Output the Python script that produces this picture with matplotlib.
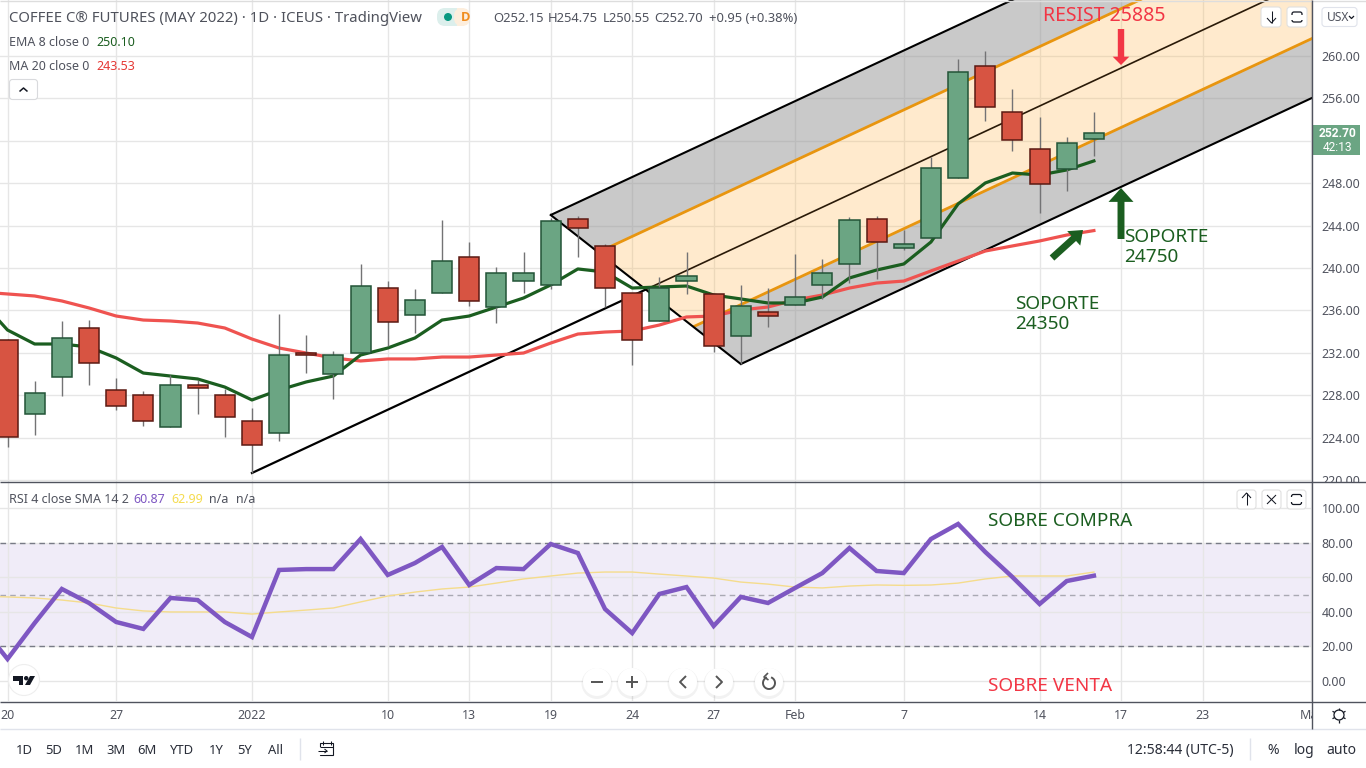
import numpy as np
import matplotlib
matplotlib.use("Agg")
import matplotlib.pyplot as plt
from matplotlib.patches import Polygon, Rectangle, Circle, FancyBboxPatch, FancyArrowPatch, Arc
from matplotlib.transforms import Bbox

plt.rcParams['font.family'] = ['Noto Sans', 'DejaVu Sans']

# ---------- data ----------
opens = [233.21,226.23,229.72,234.34,228.49,228.02,225.00,228.92,228.02,225.57,224.43,231.98,230.00,231.98,238.11,235.57,237.64,241.04,236.32,238.77,238.40,244.62,242.08,237.64,235.00,238.77,237.55,233.58,235.85,236.51,238.40,240.38,244.62,241.89,242.83,248.49,259.06,254.72,251.23,249.34,252.15]
closes = [224.06,228.21,233.40,231.04,226.98,225.57,228.96,228.68,225.94,223.30,231.79,231.79,231.79,238.30,234.91,236.98,240.66,236.89,239.53,239.53,244.43,243.77,238.11,233.21,238.11,239.25,232.64,236.42,235.47,237.26,239.53,244.53,242.45,242.26,249.43,258.49,255.19,252.08,247.92,251.79,252.70]
highs = [233.30,229.34,235.00,235.09,229.62,228.40,229.91,229.43,228.58,226.79,235.66,233.68,232.17,240.38,238.77,238.02,244.53,242.45,240.09,241.51,244.70,244.91,242.26,237.64,239.15,241.51,237.55,238.40,238.11,241.32,240.85,244.81,244.91,243.58,250.47,259.72,260.47,256.89,254.25,252.36,254.75]
lows = [223.11,224.25,227.92,228.96,226.60,225.09,225.00,226.23,224.06,220.66,223.68,230.09,227.64,231.98,232.64,233.87,237.64,236.42,234.81,237.64,238.02,241.04,236.32,230.85,235.00,237.55,232.08,230.94,234.43,236.51,237.08,238.58,238.96,241.70,242.83,248.49,253.87,251.04,245.19,247.26,250.55]

# series below start one bar before the first candle (off the left edge)
ema8 = [236.98,234.15,232.83,232.83,232.55,231.51,230.09,229.81,229.53,228.77,227.55,228.49,229.25,229.81,231.79,232.45,233.40,235.09,235.47,236.32,237.17,238.40,239.91,239.62,238.11,238.21,238.30,237.45,237.08,236.70,236.70,237.26,239.06,239.81,240.38,242.45,246.04,248.02,248.96,248.77,249.25,250.10]
ma20 = [237.74,237.55,237.36,236.89,236.23,235.47,235.09,235.00,234.81,234.34,233.30,232.45,231.98,231.51,231.23,231.42,231.42,231.60,231.60,231.79,231.98,232.92,233.77,233.96,234.06,234.62,235.38,235.47,236.04,236.32,236.98,237.45,238.11,238.58,238.77,239.72,240.66,241.60,242.08,242.55,243.11,243.53]
rsi = [32.4,12.7,33.5,53.2,45.1,34.1,30.1,48.0,46.8,34.1,25.4,64.2,64.7,64.7,82.1,61.3,68.2,77.5,55.5,65.3,64.7,79.2,74.0,41.6,27.7,50.3,54.3,31.8,48.6,45.1,53.8,62.4,76.9,63.6,62.4,82.1,90.8,74.6,60.1,44.5,57.8,60.87]
rsi_sma = [49.0,48.6,48.0,46.8,45.1,42.2,40.5,39.9,39.9,39.9,38.7,39.9,41.0,42.2,45.7,49.1,51.4,53.2,54.3,56.6,59.0,60.7,62.4,63.0,63.0,61.8,60.7,59.5,57.2,56.0,54.3,53.8,54.9,55.5,55.3,55.5,56.6,59.0,60.7,60.7,60.7,62.99]

pitch_x = [9, 20, 27]
pitch_y = [220.66, 245.00, 230.94]

price_ticks = [220, 224, 228, 232, 236, 240, 244, 248, 252, 256, 260]
hidden_price_tick = 252  # covered by the last-price tag in the reference
rsi_ticks = [0, 20, 40, 60, 80, 100]
date_pos = [0, 4, 9, 14, 17, 20, 23, 26, 29, 33, 38, 41, 44, 48]
date_labels = ['20', '27', '2022', '10', '13', '19', '24', '27', 'Feb', '7', '14', '17', '23', 'Mar']

# ---------- layout (pixels) ----------
W, H = 1366, 768
PANE_R, MAIN_B, RSI_T, RSI_B = 1312, 482, 483, 701
BAR_PX, BAR0 = 27.16, 7.5
GRID = '#e6e6e6'
TXT = '#50535e'
GREEN, GREEN_E = '#6ba583', '#225437'
RED, RED_E = '#d75442', '#5b1a13'

fig = plt.figure(figsize=(W / 100, H / 100), dpi=100, facecolor='white')
def pane(top, bottom):
    return fig.add_axes([0, 1 - bottom / H, PANE_R / W, (bottom - top) / H])
ax = pane(0, MAIN_B)
ar = pane(RSI_T, RSI_B)
xlim = (-BAR0 / BAR_PX, (PANE_R - BAR0) / BAR_PX)
for a in (ax, ar):
    a.set_xlim(*xlim)
    a.set_axisbelow(True)
    for s in a.spines.values():
        s.set_visible(False)
    a.yaxis.tick_right()
    a.tick_params(axis='both', length=0, labelsize=8.9, labelcolor=TXT)
    a.grid(True, color=GRID, lw=1.0)
    a.set_xticks(date_pos)
ax.set_ylim(260 - (MAIN_B - 56) / 10.6, 260 + 56 / 10.6)
ar.set_ylim(-11.6, 114.5)
ax.set_xticklabels([])
ax.set_yticks(price_ticks)
ax.set_yticklabels(['' if v == hidden_price_tick else f'{v:.2f}' for v in price_ticks])
ax.tick_params(axis='y', pad=7)
ar.set_yticks(rsi_ticks)
ar.set_yticklabels([f'{v:.2f}' for v in rsi_ticks])
ar.tick_params(axis='y', pad=7)
ar.set_xticklabels(date_labels)
ar.tick_params(axis='x', pad=5.5)

for lbl in ax.get_yticklabels():
    lbl.set_clip_on(True)
    lbl.set_clip_box(Bbox([[PANE_R, H - MAIN_B], [W, H]]))
for lbl in ar.get_xticklabels():
    lbl.set_clip_on(True)
    lbl.set_clip_box(Bbox([[0, 0], [PANE_R, H]]))

# ---------- pitchfork ----------
A = np.array([pitch_x[0], pitch_y[0]], float)
B = np.array([pitch_x[1], pitch_y[1]], float)
C = np.array([pitch_x[2], pitch_y[2]], float)
M = (B + C) / 2
D = M - A
def P(f):
    return B + (C - B) * f
FAR = 3
def band(f1, f2, color, alpha):
    ax.add_patch(Polygon([P(f1), P(f1) + FAR * D, P(f2) + FAR * D, P(f2)], closed=True,
                         fc=color, alpha=alpha, ec='none', zorder=1))
def tine(f, color, lw):
    p = P(f)
    ax.plot([p[0], p[0] + FAR * D[0]], [p[1], p[1] + FAR * D[1]], color=color, lw=lw, zorder=1.5,
            solid_capstyle='butt')
band(0, .25, '#8f8f8f', .48)
band(.25, .75, '#ffb74d', .28)
band(.75, 1, '#8f8f8f', .48)
tine(0, 'black', 1.5)
tine(1, 'black', 1.5)
tine(.25, '#e8950f', 2.0)
tine(.75, '#e8950f', 2.0)
ax.plot([A[0], M[0]], [A[1], M[1]], color='black', lw=1.6, zorder=1.5)
ax.plot([M[0], M[0] + FAR * D[0]], [M[1], M[1] + FAR * D[1]], color='#2a1a08', lw=1.2, zorder=1.5)
ax.plot([B[0], C[0]], [B[1], C[1]], color='black', lw=1.5, zorder=1.5)

# ---------- moving averages ----------
line_idx = np.arange(-1, 41)
ax.plot(line_idx, ma20, color='#ef5350', lw=2.3, zorder=2)
ax.plot(line_idx, ema8, color='#1b5e20', lw=2.3, zorder=2.1)

# ---------- candles ----------
idx = np.arange(len(opens))
o, c, h, l = map(np.array, (opens, closes, highs, lows))
up = c >= o
ax.vlines(idx, l, h, color='#737375', lw=1.0, zorder=3)
ax.bar(idx, np.abs(c - o), bottom=np.minimum(o, c), width=0.74,
       color=[GREEN if u else RED for u in up],
       edgecolor=[GREEN_E if u else RED_E for u in up], linewidth=1.1, zorder=4)

# ---------- RSI ----------
ar.axhspan(20, 80, color='#7e57c2', alpha=0.11, lw=0, zorder=0.5)
ar.axhline(80, color='#787b86', lw=1, dashes=(4, 3), zorder=1)
ar.axhline(20, color='#787b86', lw=1, dashes=(4, 3), zorder=1)
ar.axhline(50, color='#a9a9b3', lw=1, dashes=(4, 3), zorder=1)
ar.plot(line_idx, rsi_sma, color='#f5dc8c', lw=1.0, zorder=2)
ar.plot(line_idx, rsi, color='#7e57c2', lw=3.2, zorder=3, solid_joinstyle='miter')

# ---------- overlay: chrome and annotations, in pixels ----------
ov = fig.add_axes([0, 0, 1, 1], zorder=10)
ov.set_xlim(0, W)
ov.set_ylim(H, 0)
ov.axis('off')
ov.patch.set_alpha(0)

def T(x, y, s, px=13, color=TXT, ha='left', **kw):
    return ov.text(x, y + 1.4, s, fontsize=px * 0.72, color=color, ha=ha, va='center', **kw)
def L(xs, ys, color='#131722', lw=0.75, **kw):
    ov.plot(xs, ys, color=color, lw=lw, solid_capstyle=kw.pop('cap', 'butt'), **kw)

# frame
L([0, W], [0.5, 0.5], color='#dddddd', lw=1)
L([0, W], [MAIN_B, MAIN_B], color='#50535e', lw=1)
L([0, W], [RSI_B + 1, RSI_B + 1], color='#50535e', lw=1)
L([0, W], [729, 729], color='#e0e3eb', lw=1)
L([PANE_R, PANE_R], [0, 729], color='#50535e', lw=1)

# legends
T(9, 17, 'COFFEE C® FUTURES (MAY 2022) · 1D · ICEUS · TradingView', 14.9, '#4f525c')
ov.add_patch(FancyBboxPatch((437, 8), 16, 18, boxstyle='round,pad=0,rounding_size=8', fc='#dcefec', ec='none'))
ov.add_patch(Rectangle((445, 8), 12, 18, fc='#dcefec', ec='none'))
ov.add_patch(FancyBboxPatch((454, 8), 16, 18, boxstyle='round,pad=0,rounding_size=8', fc='#fdeedd', ec='none'))
ov.add_patch(Rectangle((457, 8), 7, 18, fc='#fdeedd', ec='none'))
ov.add_patch(Circle((448, 17), 4, fc='#089981', ec='none'))
T(466, 16.5, 'D', 13, '#f08c1e', ha='center', family='Open Sans', fontweight='bold')
T(493, 17, 'O252.15', 13)
T(548, 17, 'H254.75', 13)
T(603, 17, 'L250.55', 13)
T(654, 17, 'C252.70', 13)
T(709, 17, '+0.95 (+0.38%)', 13)
T(9, 41, 'EMA 8 close 0', 12.5)
T(96, 41, '250.10', 12.5, '#1b5e20')
T(9, 65, 'MA 20 close 0', 12.5)
T(96, 65, '243.53', 12.5, '#e53935')
ov.add_patch(FancyBboxPatch((9.5, 79.5), 28, 20, boxstyle='round,pad=0,rounding_size=3', fc='white', ec='#d9dadd', lw=0.8))
L([19.5, 23.5, 27.5], [91.5, 88, 91.5], lw=1.1)
T(9, 498.5, 'RSI 4 close SMA 14 2', 12.5)
T(133, 498.5, '60.87', 12.5, '#7e57c2')
T(171, 498.5, '62.99', 12.5, '#f5dc50')
T(209, 498.5, 'n/a', 12.5)
T(236, 498.5, 'n/a', 12.5)

# small pane buttons
def btn(x0, y0, x1, y1):
    ov.add_patch(FancyBboxPatch((x0, y0), x1 - x0, y1 - y0, boxstyle='round,pad=0,rounding_size=3',
                                fc='white', ec='#e0e0e0', lw=0.8))
def fs_icon(cx, cy):
    ov.add_patch(FancyBboxPatch((cx - 5, cy - 5), 10, 10, boxstyle='round,pad=0,rounding_size=2',
                                fc='none', ec='#131722', lw=0.9))
    ov.add_patch(Rectangle((cx - 7, cy - 2.5), 14, 5, fc='white', ec='none'))
btn(1261, 7, 1281, 27)
L([1271.5, 1271.5], [11, 23])
L([1267, 1271.5, 1276], [18, 23, 18])
btn(1287, 7, 1307, 27)
fs_icon(1297, 17)
ov.add_patch(FancyBboxPatch((1322, 7.5), 35, 19, boxstyle='round,pad=0,rounding_size=3', fc='white', ec='#e0e3eb', lw=0.8))
T(1327, 16, 'USX', 12, TXT)
L([1349, 1351.5, 1354], [16, 18.5, 16], lw=0.9)
btn(1237, 490, 1256, 509)
L([1246.5, 1246.5], [493, 505])
L([1242, 1246.5, 1251], [498, 493, 498])
btn(1262, 490, 1281, 509)
L([1267, 1276], [495, 504])
L([1276, 1267], [495, 504])
btn(1287, 490, 1306, 509)
fs_icon(1296.5, 499.5)

# last-price tag
ov.add_patch(Rectangle((PANE_R, 125), 48, 30, fc=GREEN, ec='none'))
T(1338, 131.8, '252.70', 12, 'white', ha='center', family='Roboto', fontweight='bold')
T(1338, 146.2, '42:13', 12, 'white', ha='center', family='Roboto')

# annotations
T(1043, 15, 'RESIST 25885', 19.5, '#f23645')
T(1124, 236, 'SOPORTE', 19, '#1b5e20')
T(1124, 256, '24750', 19, '#1b5e20')
T(1015, 303, 'SOPORTE', 19, '#1b5e20')
T(1015, 323, '24350', 19, '#1b5e20')
T(988, 520, 'SOBRE COMPRA', 19, '#1b5e20')
T(988, 685, 'SOBRE VENTA', 19, '#f23645')
def arrow(p0, p1, color, hl, hw, tw):
    ov.add_patch(FancyArrowPatch(p0, p1, arrowstyle=f'simple,head_length={hl},head_width={hw},tail_width={tw}',
                                 mutation_scale=1, color=color, lw=0, shrinkA=0, shrinkB=0))
arrow((1121, 29), (1121, 65), '#f23645', 6, 12, 4.6)
arrow((1121, 239), (1121, 188), '#1b5e20', 10, 18, 5)
arrow((1052, 258), (1083, 230), '#1b5e20', 9, 14, 5)

# zoom/scroll buttons
for cx in (597, 632, 683, 719, 769):
    ov.add_patch(Circle((cx, 683.5), 15.5, fc='#000000', alpha=0.05, ec='none'))
    ov.add_patch(Circle((cx, 682), 14, fc='white', ec='none'))
I = '#555'
L([591, 603], [682, 682], color=I, lw=1.4)
L([626, 638], [682, 682], color=I, lw=1.4)
L([632, 632], [676, 688], color=I, lw=1.4)
L([686, 680, 686], [676, 682, 688], color=I, lw=1.4)
L([716, 722, 716], [676, 682, 688], color=I, lw=1.4)
ov.add_patch(Arc((769, 683), 12, 12, theta1=-70, theta2=250, color=I, lw=1.4))
L([768, 764, 768.5], [673, 677, 680], color=I, lw=1.2)

# TradingView logo
ov.add_patch(Circle((24, 680), 15.5, fc='white', ec='#eeeeee', lw=0.8))
ov.add_patch(Polygon([(13, 676), (23, 676), (23, 685), (18.5, 685), (18.5, 680.5), (13, 680.5)], fc='#131722', ec='none'))
ov.add_patch(Circle((26.2, 678.2), 2.2, fc='#131722', ec='none'))
ov.add_patch(Polygon([(30, 676), (35, 676), (30, 685), (25, 685)], fc='#131722', ec='none'))

# settings icon
ov.add_patch(Circle((1339, 715), 5, fc='none', ec='#131722', lw=0.9))
for ang in np.arange(0, 360, 60):
    a = np.deg2rad(ang + 30)
    L([1339 + 5 * np.cos(a), 1339 + 7.5 * np.cos(a)], [715 + 5 * np.sin(a), 715 + 7.5 * np.sin(a)], lw=0.9)

# bottom toolbar
ranges = ['1D', '5D', '1M', '3M', '6M', 'YTD', '1Y', '5Y', 'All']
range_x = [24, 54, 85, 116, 147, 182, 216, 245, 275]
for rx, rs in zip(range_x, ranges):
    T(rx, 749, rs, 13, '#2a2e39', ha='center')
L([300, 300], [738, 760], color='#e0e3eb', lw=1)
ov.add_patch(Rectangle((320, 743), 13, 12, fc='none', ec='#131722', lw=0.8))
ov.add_patch(Rectangle((317, 747), 9, 8, fc='white', ec='none'))
L([318, 327], [751, 751])
L([324.5, 327, 324.5], [749, 751, 753])
L([322.5, 322.5], [741, 745])
L([330.5, 330.5], [741, 745])
L([320, 333], [746.5, 746.5])
T(1180, 749, '12:58:44 (UTC-5)', 14, '#2a2e39', ha='center')
L([1250, 1250], [738, 760], color='#e0e3eb', lw=1)
T(1273, 749, '%', 14, '#2a2e39', ha='center')
T(1304, 749, 'log', 14, '#2a2e39', ha='center')
T(1341, 749, 'auto', 14, '#2a2e39', ha='center')

fig.savefig('out.png', dpi=100)
